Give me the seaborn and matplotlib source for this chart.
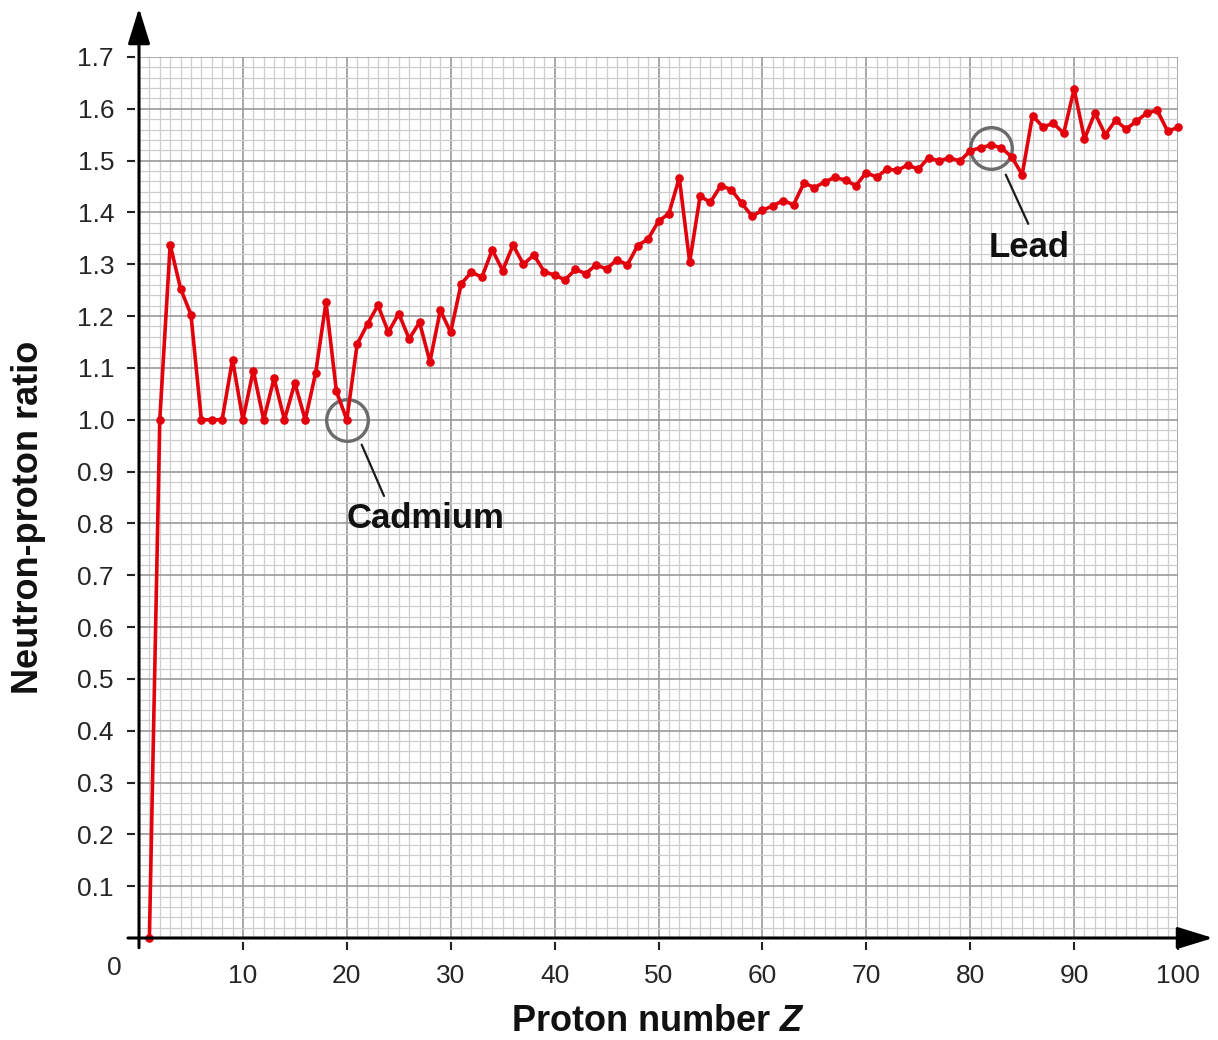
import numpy as np
import pandas as pd
import matplotlib
matplotlib.use("Agg")
import matplotlib.pyplot as plt
from matplotlib.ticker import MultipleLocator
import seaborn as sns

# ---------------- data ----------------
proton_number = list(range(1, 101))
np_ratio = [
    0.000, 1.000, 1.338, 1.253, 1.203, 1.000, 1.000, 1.000, 1.116, 1.000,
    1.095, 1.000, 1.080, 1.000, 1.071, 1.000, 1.090, 1.227, 1.055, 1.000,
    1.146, 1.185, 1.221, 1.169, 1.205, 1.156, 1.188, 1.112, 1.211, 1.169,
    1.262, 1.285, 1.275, 1.328, 1.288, 1.337, 1.300, 1.318, 1.286, 1.279,
    1.270, 1.290, 1.282, 1.299, 1.291, 1.309, 1.299, 1.336, 1.349, 1.383,
    1.398, 1.467, 1.304, 1.431, 1.420, 1.452, 1.444, 1.418, 1.393, 1.404,
    1.413, 1.423, 1.415, 1.457, 1.448, 1.459, 1.468, 1.462, 1.452, 1.477,
    1.468, 1.484, 1.481, 1.492, 1.483, 1.506, 1.499, 1.506, 1.499, 1.519,
    1.525, 1.530, 1.525, 1.507, 1.473, 1.587, 1.565, 1.572, 1.553, 1.638,
    1.542, 1.592, 1.550, 1.578, 1.561, 1.576, 1.592, 1.597, 1.557, 1.564,
]
x_ticks = [10, 20, 30, 40, 50, 60, 70, 80, 90, 100]
x_tick_labels = ["10", "20", "30", "40", "50", "60", "70", "80", "90", "100"]
y_ticks = [0.1, 0.2, 0.3, 0.4, 0.5, 0.6, 0.7, 0.8, 0.9, 1.0,
           1.1, 1.2, 1.3, 1.4, 1.5, 1.6, 1.7]
y_tick_labels = ["0.1", "0.2", "0.3", "0.4", "0.5", "0.6", "0.7", "0.8", "0.9",
                 "1.0", "1.1", "1.2", "1.3", "1.4", "1.5", "1.6", "1.7"]
highlight_names = ["Cadmium", "Lead"]
highlight_z = [20, 82]
highlight_ratio = [1.0, 1.525]

df = pd.DataFrame({"Z": proton_number, "ratio": np_ratio})

# ---------------- style ----------------
sns.set_theme(style="white")
plt.rcParams["font.family"] = ["Liberation Sans", "DejaVu Sans"]
plt.rcParams["mathtext.fontset"] = "custom"
plt.rcParams["mathtext.it"] = "Liberation Sans:italic:bold"
plt.rcParams["mathtext.rm"] = "Liberation Sans:bold"
plt.rcParams["mathtext.bf"] = "Liberation Sans:bold"

W, H = 1218, 1040
fig = plt.figure(figsize=(W / 100, H / 100), dpi=100)
ax = fig.add_axes([139 / W, 102 / H, 1039 / W, 881 / H])

RED = "#e2000c"
sns.lineplot(data=df, x="Z", y="ratio", ax=ax, color=RED, linewidth=2.6,
             marker="o", markersize=6.2, markeredgewidth=0, clip_on=False,
             zorder=5)

ax.set_xlim(0, 100)
ax.set_ylim(0, 1.7)

# grid
ax.set_xticks(x_ticks)
ax.set_xticklabels(x_tick_labels)
ax.set_yticks(y_ticks)
ax.set_yticklabels(y_tick_labels)
ax.xaxis.set_minor_locator(MultipleLocator(1))
ax.yaxis.set_minor_locator(MultipleLocator(0.02))
ax.grid(which="major", color="#9a9a9a", linewidth=1.2, zorder=0)
ax.grid(which="minor", color="#cdcdcd", linewidth=0.9, zorder=0)
ax.set_axisbelow(True)

# spines -> hidden, ticks pushed slightly outward
for s in ["top", "right"]:
    ax.spines[s].set_visible(False)
for s in ["left", "bottom"]:
    ax.spines[s].set_position(("outward", 3))
    ax.spines[s].set_visible(False)

ax.tick_params(which="major", direction="out", length=6, width=1.5,
               color="#222222", labelsize=19, labelcolor="#262626",
               left=True, bottom=True)
ax.tick_params(axis="y", which="major", pad=9)
ax.tick_params(axis="x", which="major", pad=10)
ax.tick_params(which="minor", length=0)

# axis lines with arrows
arrow_kw = dict(arrowstyle="-|>,head_length=1.1,head_width=0.34",
                color="black", lw=2.2, shrinkA=0, shrinkB=0,
                mutation_scale=20)
ax.annotate("", xy=(0, 1.0556), xytext=(0, -0.011), xycoords="axes fraction",
            textcoords="axes fraction", arrowprops=arrow_kw,
            annotation_clip=False, zorder=6)
ax.annotate("", xy=(1.0337, 0), xytext=(-0.0106, 0), xycoords="axes fraction",
            textcoords="axes fraction", arrowprops=arrow_kw,
            annotation_clip=False, zorder=6)

# origin label
ax.text(-2.4, -0.058, "0", ha="center", va="center", fontsize=19,
        color="#262626", clip_on=False)

# axis labels
ax.set_xlabel("Proton number $Z$", fontsize=26, fontweight="bold",
              color="#111111")
ax.set_ylabel("Neutron-proton ratio", fontsize=26, fontweight="bold",
              color="#111111")
ax.xaxis.label.set_va("center")
ax.yaxis.label.set_va("center")
ax.xaxis.set_label_coords(0.5, -0.0953)
ax.yaxis.set_label_coords(-0.106, 0.478)

# highlight circles
ax.plot(highlight_z, highlight_ratio, linestyle="none", marker="o",
        markersize=30, markerfacecolor="none", markeredgecolor="#6b6b6b",
        markeredgewidth=2.4, zorder=4, clip_on=False)

# leader lines and labels
leader_start = [(21.43, 0.952), (83.42, 1.473)]
leader_end = [(23.58, 0.853), (85.59, 1.378)]
label_pos = [(27.6, 0.7915), (85.66, 1.315)]
for name, p0, p1, lp in zip(highlight_names, leader_start, leader_end, label_pos):
    ax.plot([p0[0], p1[0]], [p0[1], p1[1]], color="#1a1a1a", lw=1.6, zorder=4)
    ax.text(lp[0], lp[1], name, ha="center", va="baseline", fontsize=25,
            fontweight="bold", color="#111111", zorder=6)

fig.savefig("out.png", dpi=100)
